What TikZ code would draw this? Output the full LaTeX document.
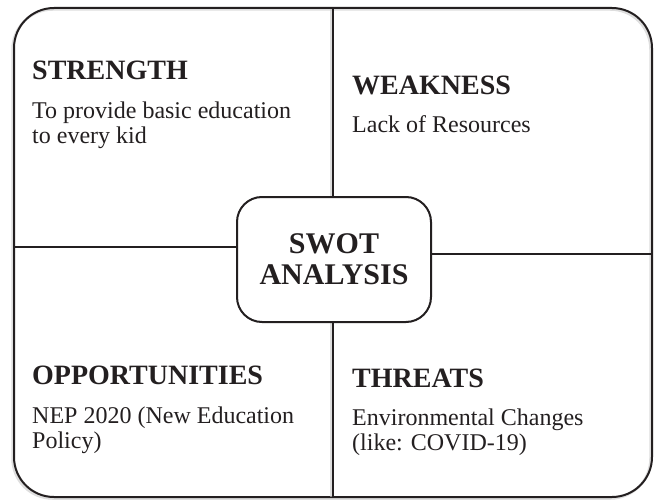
\documentclass[tikz,border=0pt]{standalone}
\usepackage{fontspec}
\setmainfont{Liberation Serif}
\definecolor{ink}{RGB}{35,31,32}
\definecolor{halo}{RGB}{200,200,200}
\begin{document}
\begin{tikzpicture}[x=1pt,y=-1pt,
  frame/.style={line width=2pt, draw=ink},
  heading/.style={anchor=base west, inner sep=0pt, text=ink,
    font=\fontsize{28}{30}\selectfont\bfseries},
  % multi-line bodies: the base anchor sits on the last line
  body/.style={anchor=base west, inner sep=0pt, text=ink, align=left,
    font=\fontsize{24}{25}\selectfont},
  hub/.style={frame, fill=white, rounded corners=25pt, align=center,
    text=ink, inner sep=0pt, minimum width=194pt, minimum height=125pt,
    font=\fontsize{30}{31}\selectfont\bfseries},
  soft/.style={line width=2.5pt, draw=halo, opacity=0.6}]
\useasboundingbox (0,0) rectangle (657,503);

% outer board and its soft shadow
\draw[soft, rounded corners=40pt] (12.5,9.5) rectangle (650.5,498.5);
\node[frame, rounded corners=40pt, minimum width=638pt, minimum height=489pt,
  inner sep=0pt] (board) at (333,252.5) {};

% dividing lines (shadow first)
\draw[soft] (331.5,9) -- (331.5,197);
\draw[soft] (331.5,322) -- (331.5,497);
\coordinate (tl) at (333,8);
\coordinate (bl) at (333,497);
\coordinate (ll) at (14,247);
\coordinate (rl) at (652,254);

\node[hub] (hub) at (334,259.5) {SWOT\\ANALYSIS};

\draw[frame] (tl) -- (tl |- hub.north);
\draw[frame] (bl |- hub.south) -- (bl);
\draw[frame] (ll) -- (ll -| hub.west);
\draw[frame] (rl -| hub.east) -- (rl);

% quadrant texts
\node[heading] (sh) at (32,80) {STRENGTH};
\node[body] (sb) at (32,143) {To provide basic education\\to every kid};
\node[heading] (wh) at (352,95) {WEAKNESS};
\node[body] (wb) at (352,133) {Lack of Resources};
\node[heading] (oh) at (32,384) {OPPORTUNITIES};
\node[body] (ob) at (32,448) {NEP 2020 (New Education\\Policy)};
\node[heading] (th) at (352,387) {THREATS};
\node[body] (tb) at (352,450) {Environmental Changes\\(like: COVID-19)};
\end{tikzpicture}
\end{document}
